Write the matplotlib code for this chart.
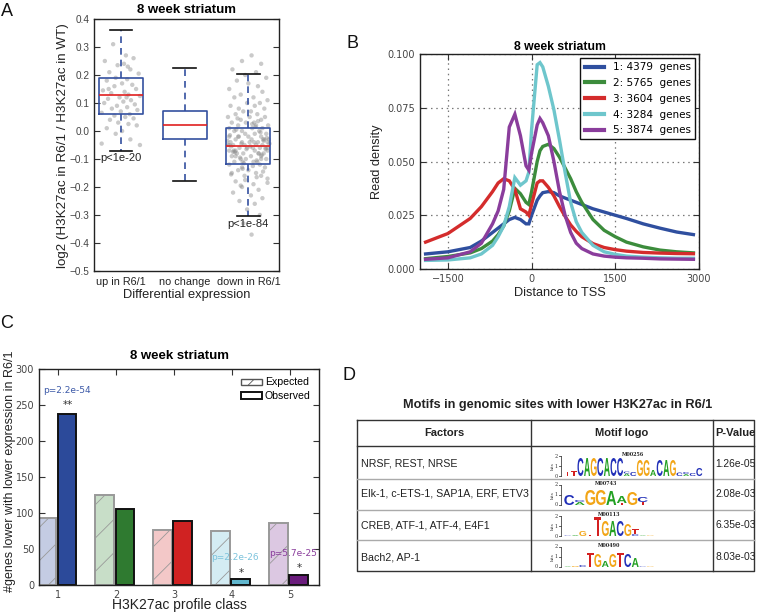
import matplotlib
matplotlib.use("Agg")
import matplotlib.pyplot as plt
import matplotlib.transforms as mtrans
from matplotlib.textpath import TextPath
from matplotlib.patches import PathPatch, Patch
from matplotlib.font_manager import FontProperties

plt.rcParams['font.family'] = ['Liberation Sans', 'DejaVu Sans']
plt.rcParams['hatch.linewidth'] = 0.6

W, H = 757, 613

# ---------------- Panel A data ----------------
groupsA = ["up in R6/1", "no change", "down in R6/1"]
a_med = [0.13, 0.02, -0.055]
a_q1 = [0.06, -0.03, -0.118]
a_q3 = [0.19, 0.072, 0.012]
a_lo = [-0.07, -0.18, -0.305]
a_hi = [0.36, 0.225, 0.203]

up_y = [0.31, 0.27, 0.26, 0.25, 0.24, 0.235, 0.22, 0.21, 0.205, 0.19,
        0.185, 0.18, 0.17, 0.165, 0.16, 0.15, 0.145, 0.14, 0.135, 0.13,
        0.125, 0.12, 0.115, 0.11, 0.105, 0.10, 0.095, 0.09, 0.085, 0.08,
        0.075, 0.07, 0.065, 0.06, 0.055, 0.05, 0.045, 0.04, 0.03, 0.025,
        0.02, 0.01, 0.0, -0.01, -0.03, -0.045, -0.05, 0.12, 0.15, 0.23]
up_dx = [-0.12, 0.08, 0.2, -0.25, 0.05, -0.05, 0.15, -0.18, 0.28, -0.08,
         0.1, -0.22, 0.02, 0.18, -0.1, 0.24, -0.28, 0.06, -0.15, 0.12,
         0.3, -0.02, -0.2, 0.16, 0.04, -0.26, 0.22, -0.06, 0.1, -0.14,
         0.26, 0.0, -0.3, 0.14, -0.1, 0.07, 0.2, -0.17, -0.04, 0.12,
         0.25, -0.22, 0.02, -0.08, 0.15, -0.3, 0.3, 0.09, -0.19, 0.11]

down_y = [0.27, 0.25, 0.24, 0.22, 0.21, 0.20, 0.19, 0.18, 0.17, 0.16,
          0.15, 0.14, 0.13, 0.12, 0.12, 0.11, 0.10, 0.10, 0.09, 0.09,
          0.08, 0.08, 0.07, 0.07, 0.06, 0.06, 0.05, 0.05, 0.05, 0.04,
          0.04, 0.03, 0.03, 0.03, 0.02, 0.02, 0.02, 0.01, 0.01, 0.01,
          0.00, 0.00, 0.00, -0.01, -0.01, -0.01, -0.02, -0.02, -0.02, -0.02,
          -0.03, -0.03, -0.03, -0.03, -0.04, -0.04, -0.04, -0.04, -0.04, -0.05,
          -0.05, -0.05, -0.05, -0.05, -0.06, -0.06, -0.06, -0.06, -0.06, -0.07,
          -0.07, -0.07, -0.07, -0.08, -0.08, -0.08, -0.08, -0.09, -0.09, -0.09,
          -0.10, -0.10, -0.10, -0.11, -0.11, -0.11, -0.12, -0.12, -0.13, -0.13,
          -0.14, -0.14, -0.15, -0.15, -0.16, -0.16, -0.17, -0.18, -0.19, -0.20,
          -0.21, -0.22, -0.23, -0.24, -0.25, -0.26, -0.28, -0.30, -0.33, -0.37,
          -0.035, -0.045, -0.055, -0.065, -0.075, -0.085, -0.095, -0.105, -0.115, -0.125,
          -0.025, -0.015, -0.005, 0.005, 0.015, -0.045, -0.055, -0.065, -0.035, -0.075,
          0.035, 0.045, 0.025, -0.135, -0.145, -0.155, -0.165, -0.175, -0.185, -0.195,
          -0.05, -0.06, -0.07, -0.03, -0.02, -0.08, -0.09, -0.1, -0.04, -0.11]
down_dx = [0.05, -0.1, 0.2, -0.25, 0.12, -0.05, 0.28, -0.18, 0.0, 0.15,
           -0.3, 0.22, -0.12, 0.08, -0.22, 0.3, -0.02, 0.18, -0.28, 0.1,
           -0.15, 0.25, -0.08, 0.04, -0.2, 0.14, -0.32, 0.26, 0.02, -0.12,
           0.2, -0.26, 0.09, -0.04, 0.31, -0.16, 0.12, -0.3, 0.06, 0.22,
           -0.1, 0.17, -0.22, 0.28, -0.05, 0.1, -0.3, 0.0, 0.2, -0.15,
           0.25, -0.2, 0.05, 0.32, -0.1, 0.15, -0.28, 0.3, 0.02, -0.06,
           0.12, -0.24, 0.22, -0.32, 0.07, -0.14, 0.27, -0.02, 0.18, -0.2,
           0.1, -0.3, 0.3, -0.08, 0.16, -0.18, 0.24, -0.26, 0.04, 0.2,
           -0.12, 0.28, -0.04, 0.14, -0.22, 0.08, -0.3, 0.18, -0.1, 0.26,
           0.0, -0.16, 0.12, -0.26, 0.2, -0.06, 0.3, -0.2, 0.08, -0.1,
           0.16, -0.24, 0.04, 0.22, -0.14, 0.1, -0.02, 0.18, -0.08, 0.05,
           -0.33, 0.33, -0.27, 0.27, -0.21, 0.21, -0.13, 0.13, -0.07, 0.07,
           0.29, -0.29, 0.19, -0.19, 0.11, -0.11, 0.03, -0.03, 0.24, -0.24,
           0.15, -0.17, 0.06, -0.09, 0.23, -0.27, 0.13, -0.05, 0.3, -0.12,
           -0.3, 0.3, -0.23, 0.23, -0.16, 0.16, -0.2, 0.2, 0.09, -0.09]

# ---------------- Panel B data ----------------
tss_x = [-1900, -1500, -1100, -900, -700, -600, -500, -400, -300, -200,
         -100, -50, 0, 100, 150, 200, 300, 400, 500, 600,
         700, 800, 900, 1100, 1300, 1500, 1700, 2000, 2300, 2600, 2900]
dens1 = [0.007, 0.008, 0.010, 0.013, 0.017, 0.019, 0.021, 0.023, 0.024, 0.023,
         0.021, 0.021, 0.025, 0.032, 0.034, 0.0355, 0.036, 0.0355, 0.034, 0.033,
         0.032, 0.031, 0.030, 0.028, 0.0265, 0.025, 0.0235, 0.021, 0.019, 0.0172, 0.016]
dens2 = [0.0048, 0.0058, 0.0075, 0.0095, 0.013, 0.016, 0.020, 0.027, 0.0375, 0.035,
         0.031, 0.030, 0.036, 0.050, 0.055, 0.057, 0.058, 0.056, 0.052, 0.047,
         0.042, 0.036, 0.031, 0.023, 0.018, 0.015, 0.0125, 0.0103, 0.0088, 0.008, 0.0075]
dens3 = [0.0125, 0.0165, 0.0235, 0.029, 0.036, 0.040, 0.042, 0.041, 0.037, 0.028,
         0.0265, 0.025, 0.030, 0.040, 0.041, 0.041, 0.038, 0.034, 0.029, 0.0245,
         0.0205, 0.0175, 0.015, 0.0118, 0.010, 0.009, 0.0083, 0.0077, 0.0074, 0.0072, 0.0071]
dens4 = [0.004, 0.0042, 0.0052, 0.007, 0.011, 0.015, 0.020, 0.029, 0.0425, 0.039,
         0.041, 0.045, 0.065, 0.095, 0.096, 0.094, 0.085, 0.074, 0.060, 0.045,
         0.031, 0.022, 0.017, 0.011, 0.008, 0.0068, 0.006, 0.0055, 0.0052, 0.005, 0.005]
dens5 = [0.0045, 0.0052, 0.008, 0.012, 0.021, 0.027, 0.037, 0.066, 0.072, 0.062,
         0.048, 0.046, 0.054, 0.067, 0.070, 0.068, 0.062, 0.050, 0.036, 0.025,
         0.017, 0.012, 0.0095, 0.007, 0.006, 0.0055, 0.0052, 0.005, 0.0047, 0.0046, 0.0045]
classes_lbl = ["1: 4379  genes", "2: 5765  genes", "3: 3604  genes",
               "4: 3284  genes", "5: 3874  genes"]
line_colors = ['#2f4f9f', '#3c8c3c', '#d42c2c', '#6ec6cc', '#8a3d9c']

# ---------------- Panel C data ----------------
classesC = [1, 2, 3, 4, 5]
expected = [93, 125, 76, 75, 86]
observed = [238, 105, 89, 8, 14]
obs_colors = ['#2c4a9a', '#2f7a30', '#d02222', '#62b8cf', '#6a1c7c']
exp_colors = ['#c4cce3', '#c8dec8', '#f3c8c8', '#d4ecf3', '#dcc8e2']
pvals_C = ["p=2.2e-54", "", "", "p=2.2e-26", "p=5.7e-25"]
stars_C = ["**", "", "", "*", "*"]
pcol_C = ['#3d5aa8', None, None, '#7cc3dc', '#8a3d9c']

# ---------------- Panel D data ----------------
factors = ["NRSF, REST, NRSE", "Elk-1, c-ETS-1, SAP1A, ERF, ETV3",
           "CREB, ATF-1, ATF-4, E4F1", "Bach2, AP-1"]
motif_ids = ["M00256", "M00743", "M00113", "M00490"]
pvalues_D = ["1.26e-05", "2.08e-03", "6.35e-03", "8.03e-03"]
logo1 = [[('T', 0.45)], [('T', 0.5)], [('C', 1.8)], [('A', 1.8)], [('G', 1.8)],
         [('C', 1.8)], [('A', 1.8)], [('C', 1.8)], [('C', 1.8)],
         [('A', 0.25), ('C', 0.2)], [('C', 0.4)], [('G', 1.6)], [('G', 1.6)],
         [('A', 0.6)], [('C', 1.6)], [('A', 1.6)], [('G', 1.6)],
         [('C', 0.35)], [('A', 0.2), ('C', 0.2)], [('C', 0.3)], [('C', 0.8)]]
logo2 = [[('C', 1.0)], [('A', 0.3), ('C', 0.2)], [('G', 1.5)], [('G', 1.5)],
         [('A', 1.4)], [('T', 0.2), ('A', 0.7)], [('G', 1.3)], [('T', 0.3), ('C', 0.5)]]
logo3 = [[('C', 0.05)], [('A', 0.08)], [('G', 0.5)], [('T', 0.1)], [('T', 1.9)],
         [('G', 1.5)], [('A', 1.5)], [('C', 1.5)], [('G', 1.2)],
         [('C', 0.2), ('T', 0.5)], [('A', 0.05)], [('G', 0.05)]]
logo4 = [[('A', 0.05)], [('G', 0.1)], [('C', 0.2)], [('T', 1.4)], [('G', 1.3)],
         [('A', 0.6)], [('G', 1.3)], [('T', 1.4)], [('C', 1.3)], [('A', 0.9)],
         [('C', 0.05)], [('G', 0.05)]]
logos = [logo1, logo2, logo3, logo4]
logo_colw = [6.6, 10.5, 7.5, 7.5]

nuc_col = {'A': '#22a022', 'C': '#2230b8', 'G': '#f2a516', 'T': '#d42020'}

fig = plt.figure(figsize=(W / 100, H / 100), dpi=100)


def add_ax(l, r, t, b):
    return fig.add_axes([l / W, 1 - b / H, (r - l) / W, (b - t) / H])


def style_classic(ax):
    ax.tick_params(direction='in', top=True, right=True, length=4, width=0.8,
                   colors='#333333', labelcolor='#444444')
    for s in ax.spines.values():
        s.set_linewidth(1.0)
        s.set_color('#222222')


# ================= Panel A =================
axA = add_ax(94, 279, 19, 271)
style_classic(axA)
posA = [1, 2, 3]
stats = []
for i in range(3):
    stats.append(dict(med=a_med[i], q1=a_q1[i], q3=a_q3[i],
                      whislo=a_lo[i], whishi=a_hi[i], fliers=[]))
axA.scatter([1 + d for d in up_dx], up_y, s=10, color='#8a8a8a', alpha=0.45,
            edgecolors='none', zorder=1)
axA.scatter([3 + d for d in down_dx], down_y, s=10, color='#8a8a8a', alpha=0.45,
            edgecolors='none', zorder=1)
axA.bxp(stats, positions=posA, widths=0.69, capwidths=0.35, showfliers=False,
        boxprops=dict(color='#3450a0', linewidth=1.2),
        whiskerprops=dict(color='#3450a0', linestyle=(0, (4, 3)), linewidth=1.2),
        capprops=dict(color='#111111', linewidth=1.2),
        medianprops=dict(color='#e02020', linewidth=1.2), zorder=2)
axA.set_xlim(0.58, 3.48)
axA.set_ylim(-0.5, 0.4)
axA.set_yticks([-0.5, -0.4, -0.3, -0.2, -0.1, 0.0, 0.1, 0.2, 0.3, 0.4])
axA.set_yticklabels(['−0.5', '−0.4', '−0.3', '−0.2', '−0.1', '0.0', '0.1', '0.2', '0.3', '0.4'],
                    fontsize=7.2)
axA.set_xticks(posA)
axA.set_xticklabels(groupsA, fontsize=7.8, color='#222222')
axA.tick_params(axis='x', top=False, bottom=False, pad=4)
axA.set_xlabel("Differential expression", fontsize=9.3, labelpad=2, color='#222222')
axA.set_title("8 week striatum", fontsize=9.5, fontweight='bold', pad=4)
axA.text(1, -0.078, "p<1e-20", ha='center', va='top', fontsize=8, color='#222222')
axA.text(3, -0.313, "p<1e-84", ha='center', va='top', fontsize=8, color='#222222')

# ================= Panel B =================
axB = add_ax(420, 699, 54, 269)
style_classic(axB)
densB = [dens1, dens2, dens3, dens4, dens5]
for d, c, lbl in zip(densB, line_colors, classes_lbl):
    axB.plot(tss_x, d, color=c, lw=2.4, label=lbl, solid_joinstyle='miter')
axB.set_xlim(-2000, 3000)
axB.set_ylim(0, 0.1)
axB.set_xticks([-1500, 0, 1500, 3000])
axB.set_xticklabels(['−1500', '0', '1500', '3000'], fontsize=7, family='DejaVu Sans')
axB.set_yticks([0, 0.025, 0.05, 0.075, 0.1])
axB.set_yticklabels(['0.000', '0.025', '0.050', '0.075', '0.100'], fontsize=7,
                    family='DejaVu Sans')
axB.grid(True, linestyle=(0, (1.2, 3)), color='#777777', linewidth=0.9)
axB.set_xlabel("Distance to TSS", fontsize=9.2, labelpad=2, color='#222222')
axB.set_ylabel("Read density", fontsize=9.2, labelpad=3, color='#222222')
axB.set_title("8 week striatum", fontsize=8.8, fontweight='bold', pad=3)
legB = axB.legend(loc='upper right', fancybox=False,
                  framealpha=1, edgecolor='#111111', borderaxespad=0.4,
                  labelspacing=0.55, handlelength=1.9,
                  prop={'family': 'DejaVu Sans', 'size': 7.5})
legB.get_frame().set_linewidth(1.0)
for ln in legB.get_lines():
    ln.set_linewidth(3)

# ================= Panel C =================
axC = add_ax(39, 319, 369, 585)
style_classic(axC)
for i, cls in enumerate(classesC):
    axC.bar(cls - 0.36, expected[i], width=0.33, align='edge', color=exp_colors[i],
            edgecolor='#999999', linewidth=1.4, hatch='/', zorder=2)
    axC.bar(cls - 0.01, observed[i], width=0.32, align='edge', color=obs_colors[i],
            edgecolor='#111111', linewidth=1.4, zorder=2)
    if pvals_C[i]:
        axC.text(cls + 0.05 if i else cls + 0.16, observed[i] + (32 if i == 0 else 30),
                 pvals_C[i], ha='center', va='center', fontsize=6.5,
                 color=pcol_C[i], family='DejaVu Sans')
        axC.text(cls + 0.16, observed[i] + (12 if i == 0 else 9), stars_C[i],
                 ha='center', va='center', fontsize=7.5, color='#333333',
                 family='DejaVu Sans')
axC.set_xlim(0.67, 5.5)
axC.set_ylim(0, 300)
axC.set_xticks(classesC)
axC.set_xticklabels([str(c) for c in classesC], fontsize=7, family='DejaVu Sans')
axC.set_yticks([0, 50, 100, 150, 200, 250, 300])
axC.set_yticklabels(['0', '50', '100', '150', '200', '250', '300'], fontsize=7,
                    family='DejaVu Sans')
axC.set_xlabel("H3K27ac profile class", fontsize=10, labelpad=-1, color='#222222')
axC.set_title("8 week striatum", fontsize=9.5, fontweight='bold', pad=7)
hC = [Patch(facecolor='white', edgecolor='#555555', hatch='//', linewidth=1.0),
      Patch(facecolor='white', edgecolor='#111111', linewidth=1.4)]
axC.legend(hC, ["Expected", "Observed"], loc='upper right', frameon=False,
           fontsize=7.6, handlelength=2.0, handleheight=0.55, labelspacing=0.35,
           borderaxespad=0.4, handletextpad=0.3)

# ================= Overlay (panel letters, y labels, table D) =================
ov = fig.add_axes([0, 0, 1, 1])
ov.set_xlim(0, W)
ov.set_ylim(H, 0)
ov.axis('off')
for lt, (x, y) in zip("ABCD", [(7, 12), (352, 43), (7, 323), (349, 376)]):
    ov.text(x, y, lt, fontsize=13, ha='center', va='center', color='#111111')

ov.text(63, 146, "log2 (H3K27ac in R6/1 / H3K27ac in WT)", fontsize=9.6,
        rotation=90, ha='center', va='center', color='#222222')
ov.text(10, 471, "#genes lower with lower expression in R6/1", fontsize=9,
        rotation=90, ha='center', va='center', color='#222222')

ov.text(558, 405, "Motifs in genomic sites with lower H3K27ac in R6/1",
        fontsize=9.2, fontweight='bold', ha='center', va='center', color='#222222')
tl, tr = 357, 754
c1, c2 = 531, 713
rows_y = [420, 446, 479, 510, 540, 571]
lc = '#333333'
ov.plot([tl, tr, tr, tl, tl], [rows_y[0], rows_y[0], rows_y[-1], rows_y[-1], rows_y[0]],
        color=lc, lw=1.0)
ov.plot([tl, tr], [rows_y[1], rows_y[1]], color=lc, lw=1.0)
for yy in rows_y[2:-1]:
    ov.plot([tl, tr], [yy, yy], color='#aaaaaa', lw=1.0)
ov.plot([c1, c1], [rows_y[0], rows_y[-1]], color=lc, lw=1.0)
ov.plot([c2, c2], [rows_y[0], rows_y[-1]], color=lc, lw=1.0)
ov.text((tl + c1) / 2, 433, "Factors", fontsize=8, fontweight='bold', ha='center',
        va='center', color='#222222')
ov.text((c1 + c2) / 2, 433, "Motif logo", fontsize=8, fontweight='bold', ha='center',
        va='center', color='#222222')
ov.text(c2 + 2, 433, "P-Value", fontsize=8, fontweight='bold', ha='left',
        va='center', color='#222222')

fp = FontProperties(family='Liberation Sans', weight='bold')


def draw_letter(ch, x, yb, w, h, color):
    tp = TextPath((0, 0), ch, size=1, prop=fp)
    bb = tp.get_extents()
    t = (mtrans.Affine2D().translate(-bb.x0, -bb.y0)
         .scale(w / bb.width, -h / bb.height).translate(x, yb))
    ov.add_patch(PathPatch(t.transform_path(tp), fc=color, ec='none', lw=0))


row_text_y = [464, 494, 525, 557]
baselines = [476, 505, 536, 567]
bit_px = 10.0
for r in range(4):
    ov.text(361, row_text_y[r], factors[r], fontsize=7.7, ha='left', va='center',
            color='#222222')
    ov.text(c2 + 2, row_text_y[r], pvalues_D[r], fontsize=7.4, ha='left', va='center',
            color='#222222')
    yb = baselines[r]
    axx = 561
    ov.plot([axx, axx], [yb, yb - 2 * bit_px], color='#444444', lw=0.6)
    for k in range(3):
        ov.plot([axx - 2, axx], [yb - k * bit_px] * 2, color='#444444', lw=0.6)
        ov.text(axx - 3, yb - k * bit_px, str(k), fontsize=3.5, ha='right',
                va='center', color='#333333', family='DejaVu Serif')
    ov.text(axx - 8, yb - bit_px, "bits", fontsize=3, rotation=90, ha='center',
            va='center', color='#333333', family='DejaVu Serif')
    x0 = axx + 3
    cw = logo_colw[r]
    for col in logos[r]:
        ycur = yb
        for ch, hbits in col:
            hp = hbits * bit_px
            draw_letter(ch, x0 + 0.3, ycur, cw - 0.6, hp, nuc_col[ch])
            ycur -= hp
        x0 += cw
    totw = cw * len(logos[r])
    ov.text(axx + 3 + totw / 2, yb - 2 * bit_px - 1.5, motif_ids[r], fontsize=3.5,
            ha='center', va='center', color='#222222', family='DejaVu Serif',
            fontweight='bold')

fig.savefig("out.png", dpi=100)
